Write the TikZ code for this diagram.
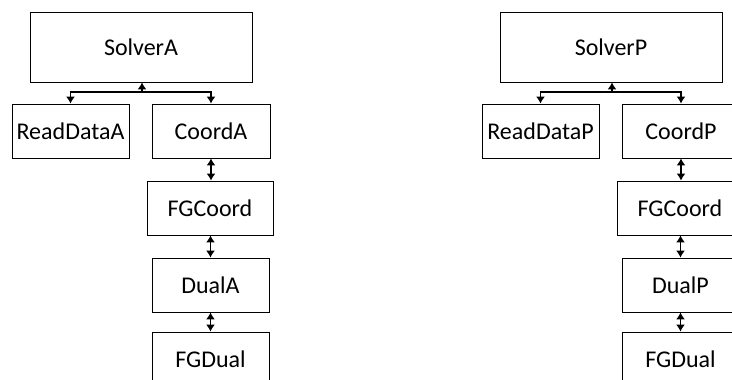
\documentclass[tikz,border=0pt]{standalone}
\usepackage{fontspec}
\setmainfont{Carlito}
\usetikzlibrary{positioning, arrows.meta}

\begin{document}
\begin{tikzpicture}[x=1pt, y=-1pt, >={Latex[length=7pt, width=9pt]},
    blk/.style={draw, line width=0.8pt, minimum width=117pt, minimum height=54pt, inner sep=0pt,
      font=\fontsize{24}{28}\selectfont},
    link/.style={line width=1.4pt}]
    \useasboundingbox (0,0) rectangle (732,380);
    \foreach \s/\dx in {A/0, P/470} {
        \begin{scope}[xshift=\dx pt]
            \node[blk, minimum width=222pt, minimum height=70pt] (solver\s) at (141,47) {Solver\s};
            \node[blk] (read\s) at (70.5,131) {ReadData\s};
            \node[blk, minimum width=118pt] (coord\s) at (211,131) {Coord\s};
            \node[blk, minimum width=126pt] (fgcoord\s) at (210,208) {FGCoord};
            \node[blk] (dual\s) at (210.5,285) {Dual\s};
            \node[blk] (fgdual\s) at (210.5,359) {FGDual};
            \coordinate (bar\s) at (142,92);

            \draw[link, ->] (bar\s) -- (solver\s.south -| bar\s);
            \draw[link, ->] (bar\s) -| (read\s.north);
            \draw[link, ->] (bar\s) -| (coord\s.north);
            \draw[link, <->] (coord\s.south) -- (coord\s.south |- fgcoord\s.north);
            \draw[link, <->] (dual\s.north) -- (dual\s.north |- fgcoord\s.south);
            \draw[link, <->] (dual\s.south) -- (dual\s.south |- fgdual\s.north);
        \end{scope}
    }
\end{tikzpicture}
\end{document}
